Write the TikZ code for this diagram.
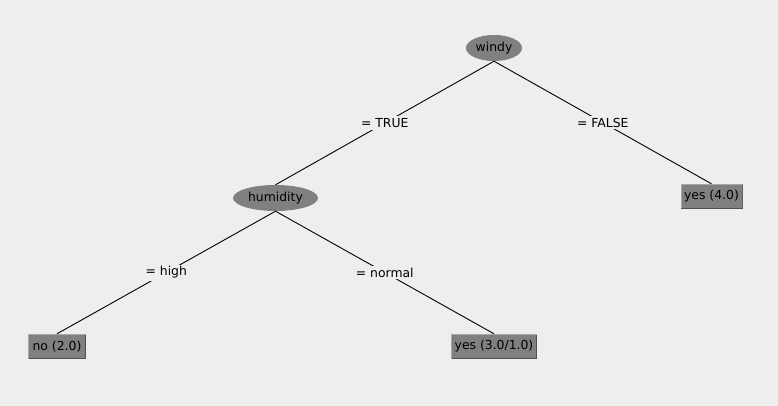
\documentclass[tikz,border=0pt]{standalone}
\usepackage{fontspec}
\setmainfont{DejaVu Sans}
\usetikzlibrary{shapes.geometric}
\definecolor{bgc}{HTML}{EEEEEE}
\definecolor{nodefill}{HTML}{808080}
\definecolor{lightedge}{HTML}{A8A8A8}
\definecolor{darkedge}{HTML}{505050}
\begin{document}
\begin{tikzpicture}[x=1pt,y=-1pt,
  every node/.style={font=\fontsize{12.4}{14}\selectfont, text=black},
  inner/.style={ellipse, fill=nodefill, inner sep=0pt, minimum height=26pt},
  leafbox/.style={rectangle, fill=nodefill, inner sep=0pt, minimum height=25pt,
    path picture={
      \draw[lightedge, line width=1pt] ([xshift=0.5pt,yshift=0.5pt]path picture bounding box.south west) |- ([xshift=-0.5pt,yshift=-0.5pt]path picture bounding box.north east);
      \draw[darkedge, line width=1pt] ([xshift=0.5pt,yshift=0.5pt]path picture bounding box.south west) -| ([xshift=-0.5pt,yshift=-0.5pt]path picture bounding box.north east);
    }},
  edgelabel/.style={fill=bgc, inner sep=2pt},
  conn/.style={draw=black, line width=0.9pt}
]
\fill[bgc] (0,0) rectangle (778,406);
\useasboundingbox (0,0) rectangle (778,406);

\node[inner, minimum width=56pt] (windy) at (494,48) {windy};
\node[inner, minimum width=85pt] (humidity) at (275.5,198) {humidity};
\node[leafbox, minimum width=62pt] (yes4) at (711.5,196.5) {yes (4.0)};
\node[leafbox, minimum width=58pt] (no2) at (57,346.5) {no (2.0)};
\node[leafbox, minimum width=86pt] (yes31) at (494,346.5) {yes (3.0/1.0)};

\path[conn] (windy.south) -- node[edgelabel] (ltrue) {= TRUE} (humidity.north);
\path[conn] (windy.south) -- node[edgelabel] (lfalse) {= FALSE} (yes4.north);
\path[conn] (humidity.south) -- node[edgelabel] (lhigh) {= high} (no2.north);
\path[conn] (humidity.south) -- node[edgelabel] (lnormal) {= normal} (yes31.north);
\end{tikzpicture}
\end{document}
